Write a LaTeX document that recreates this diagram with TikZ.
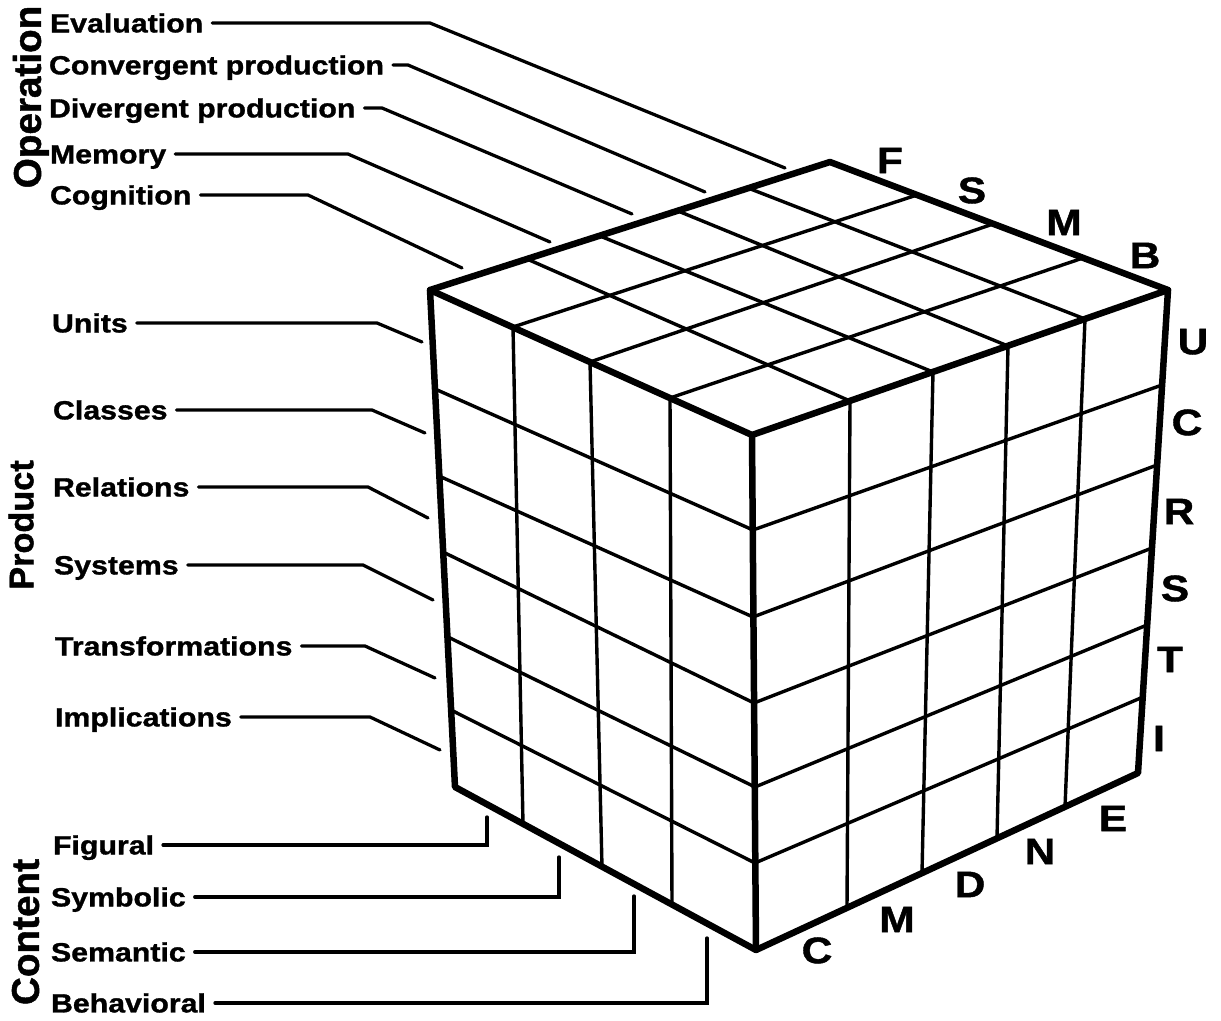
\documentclass[tikz,border=0pt]{standalone}
\usepackage{fontspec}
\setmainfont{Liberation Sans}[FakeStretch=1.15, BoldFeatures={FakeBold=1.2}]
\newfontfamily\titlefont{Liberation Sans}[BoldFeatures={FakeBold=1.2}]
\usepackage{tikz}

\tikzset{
  cubeedge/.style={line width=0.13cm, line join=round, line cap=round},
  cubegrid/.style={line width=0.068cm, line cap=round},
  leader/.style={line width=0.065cm, line cap=round, line join=miter},
  lbl/.style={anchor=west, inner xsep=0.18cm, inner ysep=0pt, outer sep=0pt,
    text height=10.7pt, text depth=0pt, font=\bfseries\fontsize{15}{15}\selectfont},
  letter/.style={inner sep=0pt, outer sep=0pt, text height=15pt, text depth=0pt,
    font=\bfseries\fontsize{21}{21}\selectfont},
  axistitle/.style={rotate=90, inner sep=0pt, outer sep=0pt, text depth=0pt}
}

\begin{document}
\begin{tikzpicture}[x=0.02cm, y=-0.02cm]
\useasboundingbox (0,0) rectangle (1221,1021);

% corners of the cube
\coordinate (topleft) at (430,290);
\coordinate (topback) at (830,162);
\coordinate (topright) at (1168,290);
\coordinate (neartop) at (752,435);
\coordinate (nearbottom) at (756,950);
\coordinate (bottomleft) at (455,787);
\coordinate (bottomright) at (1138,773);

% top face
\draw[cubegrid] (527,259) -- (850,401) (600,236) -- (933,372)
  (678,211) -- (1008,346) (748,188) -- (1085,319);
\draw[cubegrid] (513,327) -- (917,195) (590,362) -- (993,224) (670,398) -- (1083,258);
% left face
\draw[cubegrid] (513,327) -- (523,824) (590,362) -- (602,867) (670,398) -- (672,905);
\draw[cubegrid] (435,389) -- (753,530) (439,476) -- (753,617) (443,552) -- (754,703)
  (448,637) -- (755,787) (451,710) -- (755,863);
% right face
\draw[cubegrid] (850,401) -- (847,908) (933,372) -- (922,873)
  (1008,346) -- (997,838) (1085,319) -- (1065,807);
\draw[cubegrid] (753,530) -- (1162,385) (753,617) -- (1157,465) (754,703) -- (1152,548)
  (755,787) -- (1147,625) (755,863) -- (1143,697);

% outline
\draw[cubeedge] (topleft) -- (topback) -- (topright) -- (bottomright)
  -- (nearbottom) -- (bottomleft) -- cycle;
\draw[cubeedge] (topleft) -- (neartop) -- (topright) (neartop) -- (nearbottom);

% axis titles
\node[axistitle, text height=15.8pt, font=\titlefont\bfseries\fontsize{22}{22}\selectfont]
  (operation) at (27,97) {Operation};
\node[axistitle, text height=14pt, font=\titlefont\bfseries\fontsize{19.5}{19.5}\selectfont]
  (product) at (21,525) {Product};
\node[axistitle, text height=15.8pt, font=\titlefont\bfseries\fontsize{22}{22}\selectfont]
  (content) at (25,932) {Content};

\path [every node/.style={lbl}]
  node (eval) at (41,23) {Evaluation}
  node (conv) at (40,65) {Convergent production}
  node (div) at (40,108) {Divergent production}
  node (mem) at (41,154) {Memory}
  node (cog) at (41,195) {Cognition}
  node (units) at (43,323) {Units}
  node (classes) at (44,410) {Classes}
  node (rel) at (44,487) {Relations}
  node (sys) at (45,565) {Systems}
  node (trans) at (46,646) {Transformations}
  node (impl) at (46,717) {Implications}
  node (fig) at (44,845) {Figural}
  node (sym) at (42,897) {Symbolic}
  node (sem) at (42,952) {Semantic}
  node (beh) at (42,1003) {Behavioral};

\path [every node/.style={letter}]
  node (conF) at (890,160) {F}
  node (conS) at (972,190) {S}
  node (conM) at (1064,222) {M}
  node (conB) at (1145,255) {B}
  node (proU) at (1193,341) {U}
  node (proC) at (1187,422) {C}
  node (proR) at (1179,511) {R}
  node (proS) at (1175,588) {S}
  node (proT) at (1170,659) {T}
  node (proI) at (1159,738) {I}
  node (opC) at (817,950) {C}
  node (opM) at (897,919) {M}
  node (opD) at (970,884) {D}
  node (opN) at (1040,851) {N}
  node (opE) at (1113,818) {E};

% leader ends
\path
  coordinate (evalend) at (785,168)
  coordinate (convend) at (705,192)
  coordinate (divend) at (632,214)
  coordinate (memend) at (550,242)
  coordinate (cogend) at (462,268)
  coordinate (unitsend) at (422,342)
  coordinate (classesend) at (425,433)
  coordinate (relend) at (428,518)
  coordinate (sysend) at (433,600)
  coordinate (transend) at (435,678)
  coordinate (implend) at (440,750)
  coordinate (figend) at (487,817)
  coordinate (symend) at (559,857)
  coordinate (semend) at (634,896)
  coordinate (behend) at (707,938);

\begin{scope}[leader]
	% operations
	\draw (eval.east) -- (eval.east -| 430,0) -- (evalend);
	\draw (conv.east) -- (conv.east -| 408,0) -- (convend);
	\draw (div.east) -- (div.east -| 382,0) -- (divend);
	\draw (mem.east) -- (mem.east -| 348,0) -- (memend);
	\draw (cog.east) -- (cog.east -| 308,0) -- (cogend);
	% products
	\draw (units.east) -- (units.east -| 377,0) -- (unitsend);
	\draw (classes.east) -- (classes.east -| 372,0) -- (classesend);
	\draw (rel.east) -- (rel.east -| 368,0) -- (relend);
	\draw (sys.east) -- (sys.east -| 363,0) -- (sysend);
	\draw (trans.east) -- (trans.east -| 365,0) -- (transend);
	\draw (impl.east) -- (impl.east -| 370,0) -- (implend);
	% contents
	\draw (fig.east) -| (figend);
	\draw (sym.east) -| (symend);
	\draw (sem.east) -| (semend);
	\draw (beh.east) -| (behend);
\end{scope}

\end{tikzpicture}
\end{document}
